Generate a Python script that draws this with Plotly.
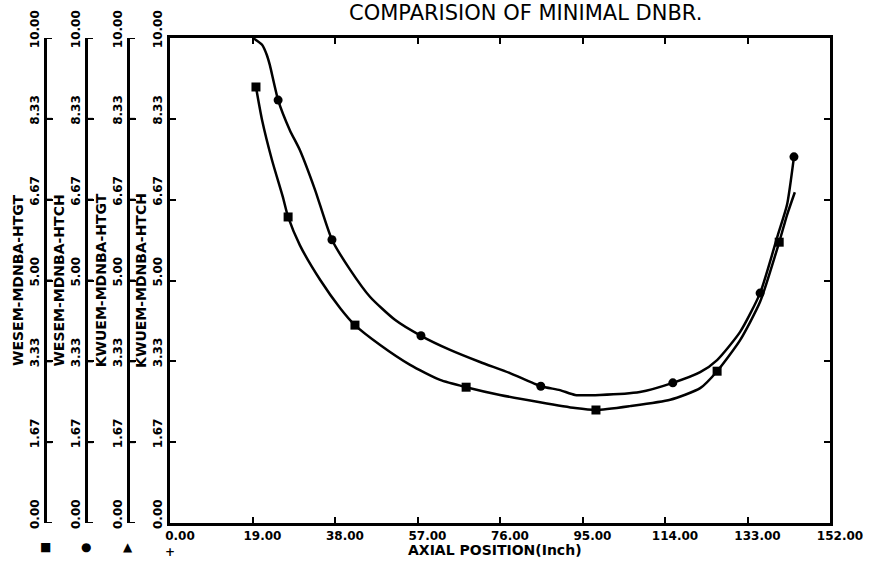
import plotly.graph_objects as go

# ---- data ----
# square-marked curve (lower in the middle)
sq_x = [19.8, 21.2, 23.5, 26.0, 27.2, 29.9, 34.6, 39.2, 42.6, 48.4, 55.3, 62.2, 68.2,
        76.0, 85.2, 93.3, 98.1, 105.9, 115.2, 122.1, 126.0, 131.3, 135.9, 140.3, 142.1, 143.9]
sq_y = [8.99, 8.31, 7.48, 6.72, 6.31, 5.73, 5.01, 4.43, 4.08, 3.67, 3.26, 2.95, 2.80,
        2.64, 2.49, 2.37, 2.33, 2.41, 2.54, 2.78, 3.13, 3.77, 4.56, 5.79, 6.35, 6.82]
sq_mx = [19.8, 27.2, 42.6, 68.2, 98.1, 126.0, 140.3]
sq_my = [8.99, 6.31, 4.08, 2.80, 2.33, 3.13, 5.79]

# circle-marked curve (upper in the middle)
ci_x = [19.1, 21.2, 22.3, 23.0, 24.9, 27.6, 29.9, 33.4, 37.3, 41.5, 46.1, 51.8, 57.8,
        64.5, 71.4, 78.3, 85.4, 89.8, 93.3, 99.0, 108.2, 115.8, 122.1, 126.0, 131.3,
        135.9, 140.0, 142.1, 143.7]
ci_y = [10.0, 9.86, 9.65, 9.44, 8.72, 8.10, 7.69, 6.87, 5.84, 5.22, 4.66, 4.19, 3.86,
        3.57, 3.32, 3.09, 2.82, 2.74, 2.64, 2.64, 2.70, 2.89, 3.11, 3.36, 3.94,
        4.74, 5.94, 6.56, 7.55]
ci_mx = [24.9, 37.3, 57.8, 85.4, 115.8, 135.9, 143.7]
ci_my = [8.72, 5.84, 3.86, 2.82, 2.89, 4.74, 7.55]

x_ticks = [0, 19, 38, 57, 76, 95, 114, 133, 152]
x_ticktext = ["0.00", "19.00", "38.00", "57.00", "76.00", "95.00", "114.00", "133.00", "152.00"]
y_ticks = [0, 1.667, 3.333, 5.0, 6.667, 8.333, 10.0]
y_ticktext = ["0.00", "1.67", "3.33", "5.00", "6.67", "8.33", "10.00"]
axis_titles = ["WESEM-MDNBA-HTGT", "WESEM-MDNBA-HTCH", "KWUEM-MDNBA-HTGT", "KWUEM-MDNBA-HTCH"]
legend_symbols = ["■", "●", "▲", "+"]

Y_MAX = 10.0
W, H = 873, 561
ML, MR, MT, MB = 0, 43, 38, 38
PW = W - ML - MR
PH = H - MT - MB
PLOT_L = 170
TICK_LEN = 7

def px_x(p):
    return (p - ML) / PW

def px_y(p):
    return (H - MB - p) / PH

FONT = "DejaVu Sans"
lab_font = dict(family=FONT, size=12, color="black", weight="bold")
line_style = dict(color="black", width=2.5, shape="spline", smoothing=0.6)

axis_px = [45, 86, 128, 170]

fig = go.Figure()
fig.add_trace(go.Scatter(x=sq_x, y=sq_y, mode="lines", line=line_style, yaxis="y2"))
fig.add_trace(go.Scatter(x=ci_x, y=ci_y, mode="lines", line=line_style, yaxis="y3"))
fig.add_trace(go.Scatter(x=sq_mx, y=sq_my, mode="markers", yaxis="y2",
                         marker=dict(symbol="square", size=9, color="black")))
fig.add_trace(go.Scatter(x=ci_mx, y=ci_my, mode="markers", yaxis="y3",
                         marker=dict(symbol="circle", size=9, color="black")))
fig.add_trace(go.Scatter(x=[None], y=[None], mode="markers", yaxis="y4"))
fig.add_trace(go.Scatter(x=[None], y=[None], mode="markers", yaxis="y"))

# inward tick marks for the three free axes, drawn in a full-page helper subplot
tx, ty = [], []
for p in axis_px[:3]:
    for v in y_ticks:
        tx += [p, p + TICK_LEN, None]
        ty += [v, v, None]
fig.add_trace(go.Scatter(x=tx, y=ty, mode="lines", xaxis="x5", yaxis="y5",
                         line=dict(color="black", width=2), cliponaxis=False, hoverinfo="skip"))

common_y = dict(range=[0, Y_MAX], tickmode="array", tickvals=y_ticks, ticktext=y_ticktext,
                tickangle=-90, ticks="inside", ticklen=6, tickwidth=2, tickcolor="black",
                showline=True, linecolor="black", linewidth=2.5, showgrid=False, zeroline=False,
                tickfont=lab_font, ticklabelshift=-7, automargin=False,
                title_font=dict(family=FONT, size=14, color="black", weight="bold"))

hidden = dict(visible=False, showgrid=False, zeroline=False, showline=False, fixedrange=True)

fig.update_layout(
    width=W, height=H,
    margin=dict(l=ML, r=MR, t=MT, b=MB),
    paper_bgcolor="white", plot_bgcolor="rgba(0,0,0,0)",
    showlegend=False,
    xaxis=dict(domain=[px_x(PLOT_L), 1], range=[0, 152], tickmode="array", tickvals=x_ticks,
               ticktext=x_ticktext, ticks="inside", ticklen=6, tickwidth=2, tickcolor="black",
               showline=True, linecolor="black", linewidth=2.5, mirror="ticks", showgrid=False,
               zeroline=False, tickfont=dict(family=FONT, size=12, color="black", weight="bold"),
               ticklabelshift=10, tickangle=0, automargin=False),
    yaxis=dict(**common_y, mirror="ticks", title=dict(text=axis_titles[3], standoff=2)),
    xaxis5=dict(**hidden, domain=[0, 1], range=[ML, W - MR], anchor="y5"),
    yaxis5=dict(**hidden, domain=[0, 1], range=[0, Y_MAX], anchor="x5"),
)
for i in range(3):
    fig.layout["yaxis%d" % (i + 2)] = dict(**common_y, overlaying="y", anchor="free",
                                           position=px_x(axis_px[i]),
                                           title=dict(text=axis_titles[i], standoff=0))

annotations = [
    dict(text="COMPARISION OF MINIMAL DNBR.", x=px_x(525), y=px_y(13), xref="paper", yref="paper",
         yanchor="middle", xanchor="center", showarrow=False,
         font=dict(family=FONT, size=21, color="black")),
    dict(text="AXIAL POSITION(Inch)", x=px_x(495), y=px_y(550), xref="paper", yref="paper",
         yanchor="middle", xanchor="center", showarrow=False,
         font=dict(family=FONT, size=14, color="black", weight="bold")),
]
sym_y = [547, 547, 547, 552]
for i, s in enumerate(legend_symbols):
    annotations.append(dict(text=s, x=px_x(axis_px[i]), y=px_y(sym_y[i]), xref="paper", yref="paper",
                            yanchor="middle", xanchor="center", showarrow=False,
                            font=dict(family=FONT, size=12, color="black", weight="bold")))
fig.update_layout(annotations=annotations)

fig.write_html("out.html")
